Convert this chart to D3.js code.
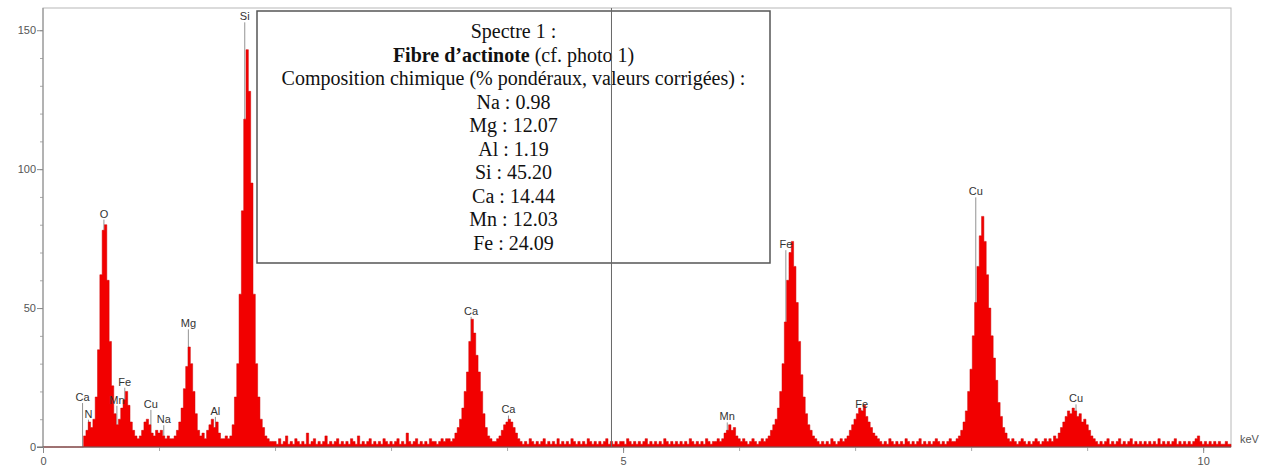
<!DOCTYPE html>
<html>
<head>
<meta charset="utf-8">
<script src="https://cdn.jsdelivr.net/npm/d3@7"></script>
<style>
  body { margin: 0; background: #fff; }
  svg { display: block; }
</style>
</head>
<body>
<div id="spectre"></div>
<script>
// spectrum: counts, one channel every 0.02 keV from 0 keV
const channelStep = 0.02;
const counts = [
  0,0,0,0,0,0,0,0,0,0,0,0,0,0,0,0,0,0,4,6,9,7,10,18,35,            // 0.00 - 0.48
  62,78,80,60,38,22,12,8,10,14,17,20,15,9,6,4,3,4,6,9,10,8,5,4,6,    // 0.50 - 0.98
  5,6,4,3,4,3,3,4,6,9,14,21,29,36,30,20,12,6,4,5,3,6,8,10,7,          // 1.00 - 1.48
  9,5,3,3,4,3,4,8,18,30,55,85,118,143,128,95,55,30,18,10,7,4,3,2,2,   // 1.50 - 1.98
  2,1,3,1,2,4,1,2,1,3,2,1,2,1,5,1,2,3,1,2,1,2,4,1,2,                  // 2.00 - 2.48
  1,2,3,1,2,1,2,1,3,2,1,4,1,2,1,2,3,1,2,1,2,1,3,2,1,                  // 2.50 - 2.98
  2,1,2,3,1,2,1,5,2,1,2,3,1,2,1,2,1,3,2,2,1,2,3,2,3,                  // 3.00 - 3.48
  3,2,3,5,7,10,14,20,27,38,46,41,33,27,20,12,7,4,3,2,2,3,4,6,8,       // 3.50 - 3.98
  9,10,9,7,5,3,2,1,2,1,3,2,1,2,1,2,3,1,2,1,2,1,3,1,2,                 // 4.00 - 4.48
  1,2,1,3,2,1,2,1,2,1,3,2,1,2,1,2,1,2,3,1,2,1,2,1,2,                  // 4.50 - 4.98
  2,1,3,2,1,2,1,2,1,2,3,1,2,1,2,1,2,1,3,2,1,2,1,2,1,                  // 5.00 - 5.48
  2,1,2,1,3,2,1,2,1,2,1,3,2,1,2,2,3,2,3,5,6,8,6,7,4,                  // 5.50 - 5.98
  3,2,3,2,1,2,3,2,1,2,3,2,3,4,6,8,10,14,20,30,45,60,70,74,65,         // 6.00 - 6.48
  52,38,26,18,12,8,6,4,3,2,1,2,1,2,1,3,2,1,2,3,2,3,4,6,8,             // 6.50 - 6.98
  10,12,14,13,15,11,9,7,5,4,3,2,1,2,1,3,2,1,2,1,2,1,3,2,1,            // 7.00 - 7.48
  2,1,2,3,1,2,1,2,1,2,3,2,1,2,1,2,3,2,2,3,4,6,9,13,20,                // 7.50 - 7.98
  28,40,52,65,76,83,74,62,50,40,32,24,16,11,7,5,3,2,3,2,1,2,3,2,1,    // 8.00 - 8.48
  2,1,2,3,2,1,2,3,2,3,2,4,3,5,7,9,11,13,12,14,13,11,12,9,10,          // 8.50 - 8.98
  8,6,4,3,2,1,2,1,2,3,1,2,1,2,3,1,2,1,2,3,1,2,1,2,1,                  // 9.00 - 9.48
  2,1,2,1,2,1,3,1,2,1,2,1,2,3,1,2,1,2,1,2,1,2,3,4,2,                  // 9.50 - 9.98
  1,2,1,2,1,2,1,2,1,1,2,1,1                                            // 10.00 - 10.24
];

// element markers: name, line energy (keV), height of the label (counts)
const markerNames = ['Ca', 'N', 'O', 'Mn', 'Fe', 'Cu', 'Na', 'Mg', 'Al', 'Si', 'Ca', 'Ca', 'Mn', 'Fe', 'Fe', 'Cu', 'Cu'];
const markerKeV   = [0.341, 0.392, 0.525, 0.637, 0.705, 0.930, 1.041, 1.253, 1.486, 1.739, 3.690, 4.012, 5.898, 6.403, 7.057, 8.040, 8.904];
const markerLevel = [18, 12, 84, 17, 23.5, 15.5, 10, 44.5, 13, 155, 49, 13.5, 11, 73, 15.5, 92, 17.5];

const yTicks = [0, 50, 100, 150];
const xTicks = [0, 5, 10];
const cursorKeV = 4.9;

// composition box
const compElements = ['Na', 'Mg', 'Al', 'Si', 'Ca', 'Mn', 'Fe'];
const compValues   = ['0.98', '12.07', '1.19', '45.20', '14.44', '12.03', '24.09'];

const W = 1276, H = 470;
const margin = {top: 8, right: 45, bottom: 23, left: 43};

const svg = d3.select('#spectre')
              .append('svg')
              .attr('width', W)
              .attr('height', H);

const x = d3.scaleLinear()
            .domain([0, 10.24])
            .range([margin.left, W - margin.right]);

const y = d3.scaleLinear()
            .domain([0, 158])
            .range([H - margin.bottom, margin.top]);

const axisColor = '#8a8a8a';
const labelFont = 'Liberation Sans, Arial, sans-serif';

// plot frame
svg.append('rect')
   .attr('x', x(0))
   .attr('y', y(158))
   .attr('width', x(10.24) - x(0))
   .attr('height', y(0) - y(158))
   .attr('fill', 'none')
   .attr('stroke', '#b8b8b8');

// marker lines (behind the spectrum)
const markers = markerNames.map((d, i) => ({name: d, kev: markerKeV[i], level: markerLevel[i]}));

svg.append('g')
   .selectAll('line')
   .data(markers)
   .enter()
   .append('line')
   .attr('x1', d => x(d.kev))
   .attr('x2', d => x(d.kev))
   .attr('y1', d => y(d.level) + 6)
   .attr('y2', y(0))
   .attr('stroke', '#777')
   .attr('stroke-width', 0.8);

// spectrum
const area = d3.area()
               .x((d, i) => x(i * channelStep))
               .y0(y(0))
               .y1(d => y(d))
               .curve(d3.curveStep);

svg.append('path')
   .datum(counts)
   .attr('d', area)
   .attr('fill', '#f20000')
   .attr('stroke', '#d00000')
   .attr('stroke-width', 0.5);

// y axis
const yMinor = svg.append('g')
                  .attr('transform', `translate(${x(0)},0)`)
                  .call(d3.axisLeft(y).tickValues(d3.range(0, 151, 10)).tickSize(3).tickFormat(''));
yMinor.select('.domain').remove();
yMinor.selectAll('line').attr('stroke', '#aaa');

const yAxis = svg.append('g')
                 .attr('transform', `translate(${x(0)},0)`)
                 .call(d3.axisLeft(y).tickValues(yTicks).tickSize(6).tickPadding(1));
yAxis.select('.domain').attr('stroke', axisColor).attr('d', `M0,${y(0)}V${y(158)}`);
yAxis.selectAll('line').attr('stroke', axisColor);
yAxis.selectAll('text')
     .style('font-family', labelFont)
     .style('font-size', '11px')
     .attr('fill', '#555');

// x axis
const xMinor = svg.append('g')
                  .attr('transform', `translate(0,${y(0)})`)
                  .call(d3.axisBottom(x).tickValues(d3.range(0, 10.1, 1)).tickSize(4).tickFormat(''));
xMinor.select('.domain').remove();
xMinor.selectAll('line').attr('stroke', '#aaa');

const xAxis = svg.append('g')
                 .attr('transform', `translate(0,${y(0)})`)
                 .call(d3.axisBottom(x).tickValues(xTicks).tickSize(6).tickPadding(4));
xAxis.select('.domain').attr('stroke', '#666').attr('d', `M${x(0) - 6},0H${x(10.24)}`);
xAxis.selectAll('line').attr('stroke', axisColor);
xAxis.selectAll('text')
     .style('font-family', labelFont)
     .style('font-size', '11px')
     .attr('fill', '#555');

svg.append('text')
   .attr('x', x(10.24) + 9)
   .attr('y', y(0) - 4)
   .text('keV')
   .style('font-family', labelFont)
   .style('font-size', '11px')
   .attr('fill', '#555');

// element labels
svg.append('g')
   .selectAll('text')
   .data(markers)
   .enter()
   .append('text')
   .attr('x', d => x(d.kev))
   .attr('y', d => y(d.level) + 4)
   .attr('text-anchor', 'middle')
   .text(d => d.name)
   .style('font-family', labelFont)
   .style('font-size', '11px')
   .attr('fill', '#333');

// composition box
const box = {x: 257, y: 11, w: 513, h: 252};
svg.append('rect')
   .attr('x', box.x)
   .attr('y', box.y)
   .attr('width', box.w)
   .attr('height', box.h)
   .attr('fill', '#fff')
   .attr('stroke', '#555')
   .attr('stroke-width', 1.5);

const cx = box.x + box.w / 2;
const lineH = 23.5;
const serif = 'Liberation Serif, Times New Roman, serif';

const boxText = svg.append('g')
                   .attr('text-anchor', 'middle')
                   .style('font-family', serif)
                   .style('font-size', '20px')
                   .attr('fill', '#111');

boxText.append('text').attr('x', cx).attr('y', 38).text('Spectre 1 :');

const title = boxText.append('text').attr('x', cx).attr('y', 38 + lineH);
title.append('tspan').style('font-weight', 'bold').text('Fibre d’actinote');
title.append('tspan').text(' (cf. photo 1)');

boxText.append('text').attr('x', cx).attr('y', 38 + 2 * lineH)
       .text('Composition chimique (% pondéraux, valeurs corrigées) :');

boxText.selectAll('.comp')
       .data(compElements)
       .enter()
       .append('text')
       .attr('class', 'comp')
       .attr('x', cx)
       .attr('y', (d, i) => 38 + (3 + i) * lineH)
       .text((d, i) => `${d} : ${compValues[i]}`);

// cursor line
svg.append('line')
   .attr('x1', x(cursorKeV))
   .attr('x2', x(cursorKeV))
   .attr('y1', y(158))
   .attr('y2', y(0))
   .attr('stroke', '#666')
   .attr('stroke-width', 1);
</script>
</body>
</html>
